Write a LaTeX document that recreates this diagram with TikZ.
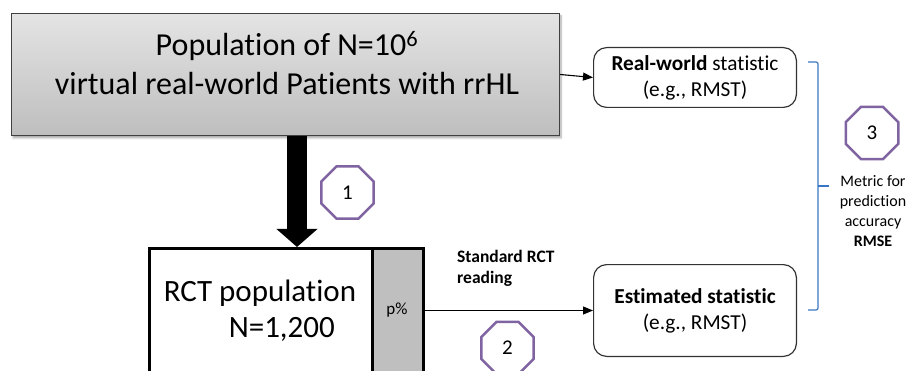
\documentclass[tikz,border=0pt]{standalone}
\usepackage{fontspec}
\setmainfont{Carlito}[Ligatures=NoCommon]
\usetikzlibrary{arrows.meta,shapes.geometric,shadows.blur,calc}
\definecolor{octpurple}{HTML}{8064A2}
\definecolor{bracketblue}{HTML}{3A76C8}
\definecolor{boxedge}{HTML}{404040}
\definecolor{pctgray}{HTML}{BFBFBF}
\begin{document}
\begin{tikzpicture}[x=1pt,y=-1pt,
  popbox/.style={draw=boxedge, line width=1.4pt, top color={rgb,255:red,228;green,228;blue,228},
    bottom color={rgb,255:red,190;green,190;blue,190}, minimum width=548pt, minimum height=122pt,
    inner sep=0pt, blur shadow={shadow xshift=1.5pt, shadow yshift=-2.5pt, shadow blur steps=6, shadow opacity=35}},
  rctbox/.style={draw=black, line width=3pt, inner sep=0pt, minimum height=200pt},
  statbox/.style={draw=black!80, line width=1.2pt, rounded corners=13pt, fill=white,
    minimum width=202.8pt, align=center, font=\fontsize{21.3}{26}\selectfont},
  octa/.style={regular polygon, regular polygon sides=8,
    minimum size=56.8pt, inner sep=0pt,
    draw=octpurple, line width=2.5pt, fill=white, font=\fontsize{21}{25}\selectfont},
  thinarrow/.style={draw=black, line width=1.1pt, -{Triangle[length=10pt,width=8pt]}},
  plain/.style={inner sep=0pt}
]
\useasboundingbox (0,0) rectangle (909,371);
\clip (0,0) rectangle (909,371);

% source population
\node[popbox] (pop) at (285.5,74.5) {};
\node[plain, font=\fontsize{32}{39}\selectfont, align=center] (poptext) at (287,63)
  {Population of N=10\textsuperscript{6}\\virtual real-world Patients with rrHL};

% sampled trial population with its p% share
\node[rctbox, fill=white, minimum width=222.5pt] (rct) at (260.75,348.5) {};
\node[rctbox, fill=pctgray, minimum width=51.5pt] (pct) at (397.75,348.5) {};
\node[plain, font=\fontsize{31}{36}\selectfont, align=left] (rcttext) at (260,310.5)
  {RCT population\\\hspace*{65pt}N=1,200};
\node[plain, font=\fontsize{17}{20}\selectfont] (pcttext) at (397,310.5) {p\%};

% sampling arrow
\coordinate (drop) at ($(pop.south)+(11.5,0)$);
\draw[line width=20pt, -{Triangle[width=40pt,length=18pt]}] (drop) -- (drop |- rct.north);

% statistics
\node[statbox, minimum height=59.8pt] (rw) at (695,77.5) {\textbf{Real-world} statistic\\(e.g., RMST)};
\node[statbox, minimum height=91.8pt] (est) at (695,310.5) {\textbf{Estimated statistic}\\(e.g., RMST)};

\draw[thinarrow] (pop.east) -- (rw.west);
\draw[thinarrow] (pcttext -| pct.east) -- (est.west);

\node[plain, font=\bfseries\fontsize{17.5}{21}\selectfont, align=left, anchor=west] (std) at (457,268)
  {Standard RCT\\reading};

% step markers
\node[octa] (n1) at (347.5,192.5) {1};
\node[octa] (n2) at (507.5,348) {2};
\node[octa] (n3) at (872,133) {3};

% comparison bracket
\coordinate (bt) at (808,62);
\coordinate (bb) at (808,310);
\coordinate (bspine) at (818,186);
\coordinate (btip) at (829,186);
\draw[bracketblue, line width=1.2pt, rounded corners=2pt] (bt) -- (bt -| bspine) -- (bb -| bspine) -- (bb);
\draw[bracketblue, line width=1.2pt] (bspine) -- (btip);

\node[plain, font=\fontsize{16}{20}\selectfont, align=center] (metric) at (873,211)
  {Metric for\\prediction\\accuracy\\\textbf{RMSE}};
\end{tikzpicture}
\end{document}
